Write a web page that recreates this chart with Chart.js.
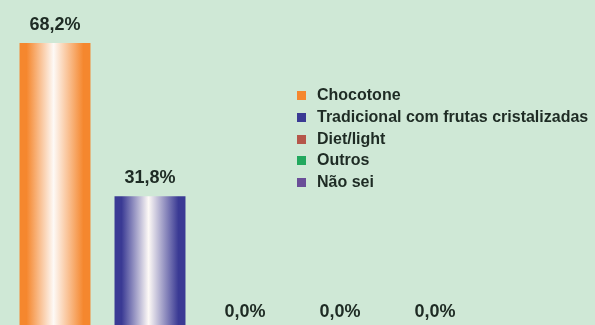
<!DOCTYPE html>
<html>
<head>
<meta charset="utf-8">
<script src="https://cdn.jsdelivr.net/npm/chart.js@4/dist/chart.umd.min.js"></script>
<style>
  html, body { margin: 0; padding: 0; background: #cfe8d6; overflow: hidden; }
  #wrap { position: relative; width: 595px; height: 340px; }
  #legend { position: absolute; left: 297px; top: 84px; font: bold 16px "Liberation Sans", Arial, sans-serif; color: #1e2b24; }
  #legend div { height: 21.8px; line-height: 21.8px; white-space: nowrap; }
  #legend span { display: inline-block; width: 9px; height: 9px; margin-right: 11px; vertical-align: 0px; }
</style>
</head>
<body>
<div id="wrap">
  <canvas id="myChart" width="595" height="340"></canvas>
  <div id="legend"></div>
</div>
<script>
const categories = ["Chocotone", "Tradicional com frutas cristalizadas", "Diet/light", "Outros", "Não sei"];
const values = [68.2, 31.8, 0, 0, 0];
const colors = ["#f5872e", "#3a3a94", "#b5564a", "#22a85e", "#6a4e98"];
const barPct = 0.747;

// bar gradient: dark edge, white-ish middle, dark edge
function barFill(context) {
  const chart = context.chart;
  const i = context.dataIndex;
  const xs = chart.scales.x;
  if (!chart.chartArea || !xs || i === undefined) return colors[i] || colors[0];
  const w = xs.width / categories.length * barPct;
  const x0 = xs.getPixelForValue(i) - w / 2;
  const g = chart.ctx.createLinearGradient(x0, 0, x0 + w, 0);
  g.addColorStop(0, colors[i]);
  g.addColorStop(0.1, colors[i]);
  g.addColorStop(0.48, "#fdf9f6");
  g.addColorStop(0.9, colors[i]);
  g.addColorStop(1, colors[i]);
  return g;
}

const valueLabels = {
  id: "valueLabels",
  afterDatasetsDraw(chart) {
    const ctx = chart.ctx;
    ctx.save();
    ctx.font = "bold 18px 'Liberation Sans', Arial, sans-serif";
    ctx.fillStyle = "#1e2b24";
    ctx.textAlign = "center";
    ctx.textBaseline = "middle";
    chart.getDatasetMeta(0).data.forEach((bar, i) => {
      ctx.fillText(values[i].toFixed(1).replace(".", ",") + "%", bar.x, bar.y - 18);
    });
    ctx.restore();
  }
};

new Chart(document.getElementById("myChart"), {
  type: "bar",
  data: {
    labels: categories,
    datasets: [{
      data: values,
      backgroundColor: barFill,
      borderWidth: 0,
      categoryPercentage: 1,
      barPercentage: barPct
    }]
  },
  options: {
    responsive: false,
    animation: false,
    layout: { padding: { left: 7.5, right: 112.5, top: 35.4, bottom: 10 } },
    plugins: { legend: { display: false }, tooltip: { enabled: false } },
    scales: {
      x: { display: false },
      y: { display: false, min: 0, max: 70 }
    }
  },
  plugins: [valueLabels]
});

document.getElementById("legend").innerHTML = categories
  .map((c, i) => `<div><span style="background:${colors[i]}"></span>${c}</div>`)
  .join("");
</script>
</body>
</html>
